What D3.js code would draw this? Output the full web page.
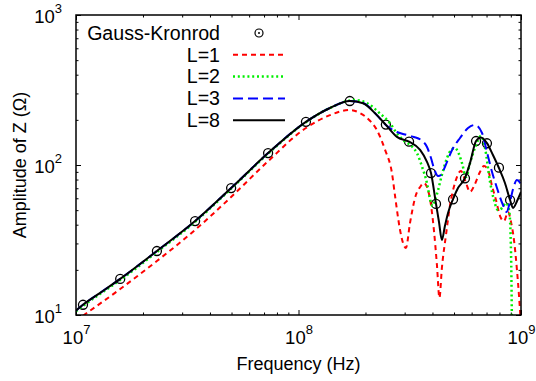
<!DOCTYPE html>
<html>
<head>
<meta charset="utf-8">
<script src="https://cdn.jsdelivr.net/npm/d3@7"></script>
<style>
  html, body { margin: 0; padding: 0; background: #fff; }
  svg { display: block; font-family: "Liberation Sans", Arial, Helvetica, sans-serif; }
</style>
</head>
<body>
<svg id="chart" width="536" height="381"></svg>
<script>
// ---------------- data ----------------
const seriesNames = ["Gauss-Kronrod", "L=1", "L=2", "L=3", "L=8"];
const xTickDecades = [1e7, 1e8, 1e9];
const xTickExps = ["7", "8", "9"];
const yTickDecades = [10, 100, 1000];
const yTickExps = ["1", "2", "3"];

// Gauss-Kronrod reference points
const fGK = [1.075e7, 1.58e7, 2.31e7, 3.43e7, 4.98e7, 7.3e7, 1.08e8, 1.70e8, 2.47e8, 3.14e8,
             3.94e8, 4.15e8, 4.95e8, 5.60e8, 6.28e8, 7.03e8, 7.96e8, 8.93e8];
const zGK = [11.7, 17.4, 26.7, 42.3, 70.2, 120, 194, 267, 186, 143,
             88.4, 55, 59, 81.5, 144.5, 139.6, 96, 58.4];

// L=1
const fL1 = [1.075e7, 1.58e7, 2.31e7, 3.43e7, 4.98e7, 7.3e7, 1.08e8, 1.385e8, 1.70e8, 1.89e8,
             2.10e8, 2.25e8, 2.45e8, 2.63e8, 2.72e8, 2.86e8, 2.95e8, 3.04e8, 3.17e8, 3.37e8,
             3.52e8, 3.66e8, 3.82e8, 3.94e8, 4.06e8, 4.19e8, 4.30e8, 4.41e8, 4.60e8, 4.80e8,
             5.05e8, 5.37e8, 5.66e8, 5.90e8, 6.21e8, 6.54e8, 6.82e8, 7.11e8, 7.41e8, 7.72e8,
             8.05e8, 8.39e8, 8.74e8, 9.02e8, 9.30e8, 9.59e8, 9.79e8, 9.95e8];
const zL1 = [9.9, 14.9, 22.9, 36.9, 61.2, 106, 176.5, 215, 232.7, 222,
             196.5, 171, 126, 88.4, 61.2, 36.9, 30.2, 28.0, 41.0, 63.1,
             71.3, 75.9, 68.1, 54.1, 36.9, 21.5, 13.0, 20.6, 34.1, 54.1,
             75.9, 91.2, 75.9, 66.1, 74.7, 89.8, 98.5, 92.6, 72.4, 58.4,
             45.7, 42.3, 48.6, 41.7, 31.6, 20, 13.6, 9.5];

// L=2
const fL2 = [1.0e7, 1.075e7, 1.28e7, 1.58e7, 2.31e7, 3.43e7, 4.98e7, 7.3e7, 1.08e8, 1.385e8,
             1.79e8, 2.03e8, 2.32e8, 2.58e8, 2.77e8, 2.95e8, 3.24e8, 3.41e8, 3.59e8, 3.78e8,
             3.90e8, 4.00e8, 4.11e8, 4.24e8, 4.41e8, 4.65e8, 4.85e8, 5.05e8, 5.26e8, 5.43e8,
             5.66e8, 5.90e8, 6.21e8, 6.61e8, 6.89e8, 7.26e8, 7.56e8, 7.88e8, 8.22e8, 8.56e8,
             8.84e8, 8.97e8, 9.04e8, 9.10e8];
const zL2 = [10.6, 11.5, 13.8, 17.1, 26.3, 41.8, 69.5, 119, 193, 240,
             271, 258.5, 221, 189.7, 162.6, 146.8, 132.4, 119.7, 97.5, 75.5,
             59.3, 53.3, 58.4, 68.1, 85.8, 111.3, 126, 129.8, 118.4, 103,
             83.2, 103, 129.8, 156, 129.8, 77.1, 58.4, 50.1, 51.7, 55.8,
             50.1, 35.8, 21.5, 9.3];

// L=3
const fL3 = [1.0e7, 1.075e7, 1.28e7, 1.58e7, 2.31e7, 3.43e7, 4.98e7, 7.3e7, 1.08e8, 1.385e8,
             1.70e8, 1.95e8, 2.25e8, 2.47e8, 2.77e8, 3.07e8, 3.30e8, 3.55e8, 3.78e8, 3.94e8,
             4.06e8, 4.24e8, 4.37e8, 4.55e8, 4.90e8, 5.32e8, 5.78e8, 6.21e8, 6.68e8, 7.03e8,
             7.41e8, 7.80e8, 8.30e8, 8.61e8, 8.92e8, 9.21e8, 9.59e8, 1.0e9];
const zL3 = [10.7, 11.7, 14.0, 17.4, 26.7, 42.3, 70.2, 120, 194, 240,
             267, 259, 215, 185, 166, 158.5, 153.7, 146.8, 131.8, 111.3,
             95.5, 84.5, 85.8, 97, 126, 151.4, 176.5, 185, 163.4, 122.1,
             89.8, 70.2, 54.1, 48.6, 56.7, 69.2, 79.4, 74.7];

// L=8
const fL8 = [1.0e7, 1.075e7, 1.28e7, 1.58e7, 2.31e7, 3.43e7, 4.98e7, 7.3e7, 1.08e8, 1.385e8,
             1.70e8, 1.95e8, 2.25e8, 2.47e8, 2.77e8, 3.14e8, 3.52e8, 3.78e8, 3.94e8, 4.15e8,
             4.28e8, 4.41e8, 4.55e8, 4.70e8, 4.95e8, 5.21e8, 5.60e8, 5.90e8, 6.28e8, 6.61e8,
             7.03e8, 7.48e8, 7.96e8, 8.47e8, 8.93e8, 9.21e8, 9.60e8, 1.0e9];
const zL8 = [10.7, 11.7, 14.0, 17.4, 26.7, 42.3, 70.2, 120, 194, 240,
             267, 258, 215, 185, 154, 143, 126, 105, 88.4, 55,
             41.7, 31.6, 39.2, 47.9, 59.3, 70.2, 81.9, 103, 144.5, 152.5,
             140, 116.6, 95.5, 75.9, 58.4, 51.7, 57.5, 66.1];

// ---------------- chart ----------------
const svg = d3.select("#chart");
const L = 76, R = 521, T = 15, B = 315;

const x = d3.scaleLog().domain([1e7, 1e9]).range([L, R]);
const y = d3.scaleLog().domain([10, 1000]).range([B, T]);

const minorX = [], minorY = [];
[1e7, 1e8].forEach(d => { for (let k = 2; k <= 9; k++) minorX.push(d * k); });
[10, 100].forEach(d => { for (let k = 2; k <= 9; k++) minorY.push(d * k); });

svg.append("defs").append("clipPath").attr("id", "clip")
  .append("rect").attr("x", L).attr("y", T).attr("width", R - L).attr("height", B - T);

function styleAxis(g) {
  g.select(".domain").remove();
  g.selectAll(".tick line").attr("stroke", "#000").attr("stroke-width", 1);
}

// minor ticks
svg.append("g").attr("transform", `translate(0,${B})`)
  .call(d3.axisBottom(x).tickValues(minorX).tickSize(-2.5).tickFormat(""))
  .call(styleAxis);
svg.append("g").attr("transform", `translate(0,${T})`)
  .call(d3.axisTop(x).tickValues(minorX).tickSize(-2.5).tickFormat(""))
  .call(styleAxis);
svg.append("g").attr("transform", `translate(${L},0)`)
  .call(d3.axisLeft(y).tickValues(minorY).tickSize(-2.5).tickFormat(""))
  .call(styleAxis);
svg.append("g").attr("transform", `translate(${R},0)`)
  .call(d3.axisRight(y).tickValues(minorY).tickSize(-2.5).tickFormat(""))
  .call(styleAxis);

// major ticks with labels
const gxB = svg.append("g").attr("transform", `translate(0,${B})`)
  .call(d3.axisBottom(x).tickValues(xTickDecades).tickSize(-5).tickFormat((d, i) => i))
  .call(styleAxis);
svg.append("g").attr("transform", `translate(0,${T})`)
  .call(d3.axisTop(x).tickValues(xTickDecades).tickSize(-5).tickFormat(""))
  .call(styleAxis);
const gyL = svg.append("g").attr("transform", `translate(${L},0)`)
  .call(d3.axisLeft(y).tickValues(yTickDecades).tickSize(-5).tickFormat((d, i) => i))
  .call(styleAxis);
svg.append("g").attr("transform", `translate(${R},0)`)
  .call(d3.axisRight(y).tickValues(yTickDecades).tickSize(-5).tickFormat(""))
  .call(styleAxis);

gxB.selectAll(".tick text").each(function (d, i) {
  const t = d3.select(this);
  t.text(null).attr("y", 29).attr("dy", null).attr("fill", "#000")
    .attr("font-size", 18.5).attr("text-anchor", "middle")
    .attr("font-family", '"Liberation Sans", Arial, Helvetica, sans-serif');
  t.append("tspan").text("10");
  t.append("tspan").attr("dy", -10).attr("font-size", 13).text(xTickExps[i]);
});
gyL.selectAll(".tick text").each(function (d, i) {
  const t = d3.select(this);
  t.text(null).attr("x", -14).attr("y", 0).attr("dy", 7.5).attr("fill", "#000")
    .attr("font-size", 18.5).attr("text-anchor", "end")
    .attr("font-family", '"Liberation Sans", Arial, Helvetica, sans-serif');
  t.append("tspan").text("10");
  t.append("tspan").attr("dy", -10).attr("font-size", 13).text(yTickExps[i]);
});

// axis titles
svg.append("text").attr("x", (L + R) / 2).attr("y", 370).attr("text-anchor", "middle")
  .attr("font-size", 18).text("Frequency (Hz)");
svg.append("text").attr("transform", `translate(26,${(T + B) / 2})rotate(-90)`)
  .attr("text-anchor", "middle").attr("font-size", 18).text("Amplitude of Z (Ω)");

// data lines
const line = d3.line().x(d => x(d[0])).y(d => y(d[1])).curve(d3.curveMonotoneX);
const plot = svg.append("g").attr("clip-path", "url(#clip)");

// GK points
plot.selectAll("circle.gk").data(d3.zip(fGK, zGK)).join("circle")
  .attr("class", "gk")
  .attr("cx", d => x(d[0])).attr("cy", d => y(d[1])).attr("r", 4.5)
  .attr("fill", "none").attr("stroke", "#000").attr("stroke-width", 1.3);

const series = [
  { f: fL1, z: zL1, color: "#ff0000", dash: "5,4", w: 2 },
  { f: fL2, z: zL2, color: "#00ee00", dash: "2,2.8", w: 2.5 },
  { f: fL3, z: zL3, color: "#0000ff", dash: "10,5", w: 2 },
  { f: fL8, z: zL8, color: "#000000", dash: null, w: 2 }
];
series.forEach(s => {
  plot.append("path").datum(d3.zip(s.f, s.z)).attr("d", line)
    .attr("fill", "none").attr("stroke", s.color).attr("stroke-width", s.w)
    .attr("stroke-dasharray", s.dash);
});

// frame
svg.append("rect").attr("x", L).attr("y", T).attr("width", R - L).attr("height", B - T)
  .attr("fill", "none").attr("stroke", "#000").attr("stroke-width", 1.5);

// legend
const legY = [33, 54.8, 76.6, 98.4, 120.2];
const lg = svg.append("g");
seriesNames.forEach((name, i) => {
  lg.append("text").attr("x", 220).attr("y", legY[i] + 6.8).attr("text-anchor", "end")
    .attr("font-size", 19.6).text(name);
  if (i === 0) {
    lg.append("circle").attr("cx", 259).attr("cy", legY[i]).attr("r", 4)
      .attr("fill", "none").attr("stroke", "#000").attr("stroke-width", 1.2);
    lg.append("circle").attr("cx", 259).attr("cy", legY[i]).attr("r", 1).attr("fill", "#000");
  } else {
    const s = series[i - 1];
    lg.append("line").attr("x1", 233).attr("x2", 285).attr("y1", legY[i]).attr("y2", legY[i])
      .attr("stroke", s.color).attr("stroke-width", s.w).attr("stroke-dasharray", s.dash);
  }
});
</script>
</body>
</html>
